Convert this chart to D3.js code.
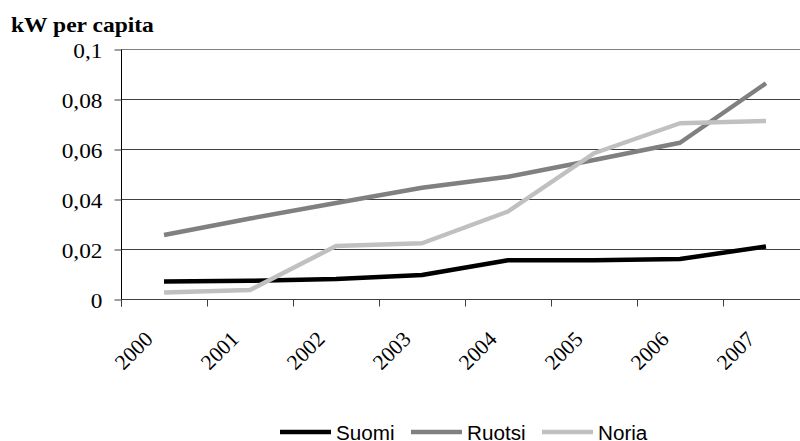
<!DOCTYPE html>
<html>
<head>
<meta charset="utf-8">
<script src="https://cdn.jsdelivr.net/npm/d3@7"></script>
<style>
  html, body { margin: 0; padding: 0; background: #fff; }
  svg { display: block; }
  .serif { font-family: "Liberation Serif", "Times New Roman", serif; }
  .sans { font-family: "Liberation Sans", Arial, sans-serif; }
</style>
</head>
<body>
<svg id="chart" width="800" height="441"></svg>
<script>
// Installed wind power per capita, kW
const years = ["2000", "2001", "2002", "2003", "2004", "2005", "2006", "2007"];
const suomi  = [0.0070, 0.0073, 0.0080, 0.0096, 0.0155, 0.0155, 0.0160, 0.0210];
const ruotsi = [0.0256, 0.0322, 0.0384, 0.0445, 0.0489, 0.0556, 0.0625, 0.0863];
const noria  = [0.0026, 0.0036, 0.0212, 0.0223, 0.0350, 0.0583, 0.0703, 0.0712];
const seriesNames = ["Suomi", "Ruotsi", "Noria"];
const seriesColors = ["#000000", "#808080", "#c0c0c0"];
const yTicks = [0, 0.02, 0.04, 0.06, 0.08, 0.1];
const yTitle = "kW per capita";

const series = seriesNames.map((name, i) => ({
  name, color: seriesColors[i], values: [suomi, ruotsi, noria][i]
}));

const svg = d3.select("#chart");
const plotLeft = 121, plotRight = 809, plotTop = 49, plotBottom = 299;
const stretch = 1.06; // text is set slightly wide

const x = d3.scaleBand().domain(years).range([plotLeft, plotRight]);
const y = d3.scaleLinear().domain([0, 0.1]).range([plotBottom, plotTop]);

const fmt = v => (v === 0 ? "0" : String(+v.toFixed(2)).replace(".", ","));

// horizontal gridlines
svg.append("g").selectAll("line").data(yTicks.slice(1)).join("line")
  .attr("x1", plotLeft).attr("x2", plotRight)
  .attr("y1", d => Math.round(y(d)) + 0.5).attr("y2", d => Math.round(y(d)) + 0.5)
  .attr("stroke", d => d === 0.1 ? "#808080" : "#404040").attr("stroke-width", 1);

// y axis
const yAxis = svg.append("g").attr("transform", `translate(${plotLeft + 0.5},0.5)`)
  .call(d3.axisLeft(y).tickValues(yTicks).tickFormat(fmt).tickSize(7).tickPadding(12));
yAxis.attr("font-family", null).attr("font-size", null);
yAxis.select(".domain").attr("d", `M0,${plotTop}V${plotBottom + 7}`).attr("stroke", "#000");
yAxis.selectAll(".tick line").attr("stroke", "#404040");
yAxis.selectAll(".tick text").attr("class", "serif")
  .attr("font-size", 22).attr("fill", "#000")
  .attr("x", -19 / stretch).attr("dy", "0.35em")
  .attr("transform", `scale(${stretch},1)`);

// x axis with ticks on the category boundaries
const xAxis = svg.append("g").attr("transform", `translate(0,${plotBottom + 0.5})`);
xAxis.append("line").attr("x1", plotLeft).attr("x2", plotRight).attr("stroke", "#404040");
xAxis.selectAll("line.tk").data(years).join("line").attr("class", "tk")
  .attr("x1", d => Math.round(x(d)) + 0.5).attr("x2", d => Math.round(x(d)) + 0.5)
  .attr("y1", 0).attr("y2", 7).attr("stroke", "#404040");
xAxis.selectAll("text").data(years).join("text").attr("class", "serif")
  .attr("transform", d => `translate(${x(d) + x.bandwidth() / 2 - 10},41) rotate(-45)`)
  .attr("text-anchor", "end")
  .attr("font-size", 21.5).attr("fill", "#000")
  .text(d => d);

// series lines
const line = d3.line()
  .x((d, i) => x(years[i]) + x.bandwidth() / 2)
  .y(d => y(d));
svg.append("g").selectAll("path").data(series).join("path")
  .attr("d", s => line(s.values))
  .attr("fill", "none").attr("stroke", s => s.color)
  .attr("stroke-width", 4.5).attr("stroke-linejoin", "round");

// y title
svg.append("text").attr("class", "serif")
  .attr("transform", "scale(1.07,1)")
  .attr("x", 11 / 1.07).attr("y", 32)
  .attr("font-weight", "bold").attr("font-size", 22).text(yTitle);

// legend
const legend = svg.append("g").attr("transform", "translate(280,432)");
const item = legend.selectAll("g").data(series).join("g")
  .attr("transform", (d, i) => `translate(${i * 131},0)`);
item.append("line").attr("x1", 0).attr("x2", 51)
  .attr("stroke", d => d.color).attr("stroke-width", 4.5);
item.append("text").attr("class", "sans")
  .attr("transform", `translate(56,8) scale(${stretch},1)`)
  .attr("font-size", 19.5).attr("fill", "#000")
  .text(d => d.name);
</script>
</body>
</html>
